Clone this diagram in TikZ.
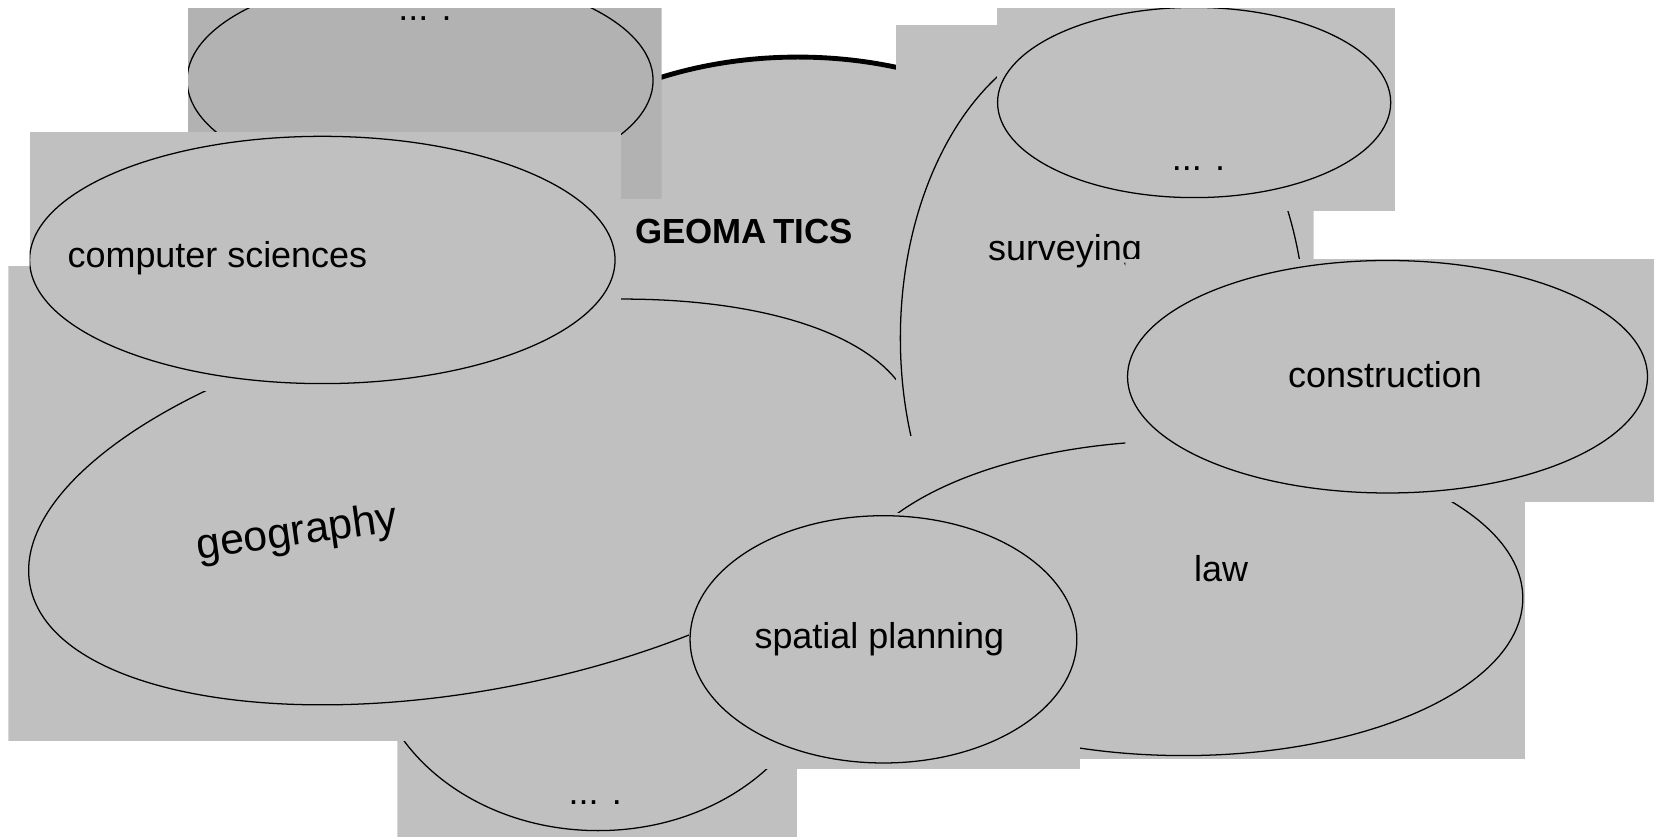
\documentclass[tikz,border=0pt]{standalone}
\usepackage{fontspec}
\setmainfont{Liberation Sans}
\definecolor{panelgray}{RGB}{192,192,192}
\definecolor{paneldark}{RGB}{178,178,178}
\begin{document}
\begin{tikzpicture}[x=1pt,y=-1pt,
  panel/.style={fill=panelgray,draw=none},
  outline/.style={draw=black,line width=1.2pt},
  lbl/.style={inner sep=0pt,outer sep=0pt,text=black,font=\fontsize{34}{40}\selectfont},
  dots/.style={lbl,anchor=base west,text height=4pt,text depth=0pt},
]
\useasboundingbox (0,0) rectangle (1568,792);
% GEOMATICS (bottom layer)
\filldraw[fill=panelgray,draw=black,line width=4.6pt] (755,294) ellipse [x radius=330pt,y radius=240pt];
\node[lbl,font=\bfseries\fontsize{33}{40}\selectfont,anchor=base west] (geomatics) at (601,230) {GEOMA\kern6pt TICS};
% dark top-left panel
\begin{scope}
  \clip (178,8) rectangle (626,188);
  \fill[paneldark] (178,8) rectangle (626,188);
  \draw[outline] (397.5,76) ellipse [x radius=220.5pt,y radius=101pt];
\end{scope}
\node[dots] (dotsA) at (377,19) {... .};
% bottom panel
\begin{scope}
  \clip (376,600) rectangle (754,792);
  \fill[panel] (376,600) rectangle (754,792);
  \draw[outline] (566,609) ellipse [x radius=215pt,y radius=177pt];
\end{scope}
\node[dots] (dotsC) at (538,761) {... .};
% geography panel
\begin{scope}
  \clip (8,252) rectangle (880,701);
  \fill[panel] (8,252) rectangle (880,701);
  \draw[outline,rotate around={10.7:(447,475)}] (447,475) ellipse [x radius=426pt,y radius=178pt];
\end{scope}
\node[lbl,font=\fontsize{40.5}{46}\selectfont,anchor=base west,rotate=8] (geography) at (188,529) {geography};
% computer sciences panel
\begin{scope}
  \clip (28,125) rectangle (588,370);
  \fill[panel] (28,125) rectangle (588,370);
  \draw[outline] (305,246) ellipse [x radius=277pt,y radius=117pt];
\end{scope}
\node[lbl,anchor=base west] (cs) at (64,253) {computer sciences};
% surveying panel
\begin{scope}
  \clip (848,24) rectangle (1243,500);
  \fill[panel] (848,24) rectangle (1243,500);
  \draw[outline] (1044,320) ellipse [x radius=192pt,y radius=290pt];
\end{scope}
\node[lbl,anchor=base west] (surveying) at (935,246.5) {surveying};
% top-right panel
\begin{scope}
  \clip (943,8) rectangle (1320,200);
  \fill[panel] (943,8) rectangle (1320,200);
  \draw[outline] (1130,97) ellipse [x radius=186pt,y radius=90pt];
\end{scope}
\node[dots] (dotsB) at (1109,161) {... .};
% law panel
\begin{scope}
  \clip (790,413) rectangle (1443,718);
  \fill[panel] (790,413) rectangle (1443,718);
  \draw[outline] (1120,566) ellipse [x radius=321pt,y radius=149pt];
\end{scope}
\node[lbl,anchor=base west] (law) at (1130,550) {law};
% construction panel
\begin{scope}
  \clip (1065,245) rectangle (1565,475);
  \fill[panel] (1065,245) rectangle (1565,475);
  \draw[outline] (1313,356.5) ellipse [x radius=246pt,y radius=110pt];
\end{scope}
\node[lbl,anchor=base west] (construction) at (1219,367) {construction};
% spatial planning panel
\begin{scope}
  \clip (652,485) rectangle (1022,728);
  \fill[panel] (652,485) rectangle (1022,728);
  \draw[outline] (836,605) ellipse [x radius=183pt,y radius=117pt];
\end{scope}
\node[lbl,anchor=base west] (spatial) at (714,614) {spatial planning};
\end{tikzpicture}
\end{document}
